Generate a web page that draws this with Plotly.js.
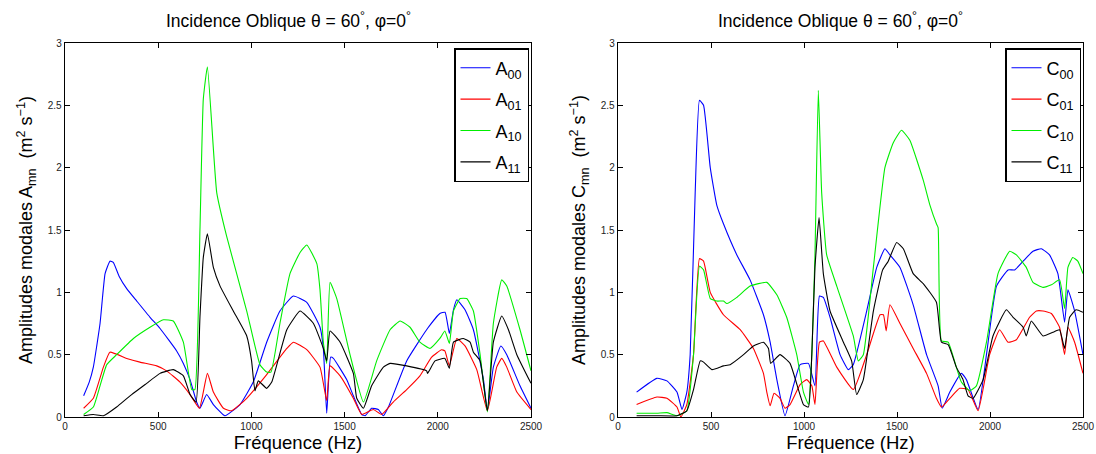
<!DOCTYPE html>
<html>
<head>
<meta charset="utf-8">
<script src="https://cdn.plot.ly/plotly-3.0.1.min.js"></script>
<style>html,body{margin:0;padding:0;background:#fff}#chart{width:1096px;height:454px}</style>
</head>
<body>
<div id="chart"></div>
<script>
// ---- Left panel: A_mn ----
const a00x = [100,130,152,188,215,241,259,290,331,385,456,510,599,635,671,706,724,760,796,858,939,1010,1082,1153,1225,1297,1368,1386,1404,1425,1440,1511,1547,1592,1610,1645,1681,1708,1735,1833,1940,2011,2039,2062,2084,2102,2146,2191,2245,2266,2298,2338,2370,2441,2500];
const a00y = [0.17,0.28,0.4,0.75,1.15,1.25,1.24,1.13,1.03,0.93,0.8,0.71,0.53,0.43,0.3,0.12,0.07,0.18,0.1,0.01,0.1,0.28,0.6,0.85,0.97,0.92,0.72,0.55,0.03,0.48,0.47,0.3,0.17,0.02,0.01,0.07,0.06,0.01,0.08,0.45,0.7,0.83,0.84,0.67,0.86,0.94,0.86,0.7,0.3,0.05,0.4,0.57,0.5,0.25,0.07];

const a01x = [100,152,206,241,331,402,492,545,617,671,721,764,796,850,894,975,1082,1190,1225,1297,1368,1404,1422,1476,1547,1592,1654,1699,1761,1833,1904,1967,2020,2038,2062,2102,2146,2209,2266,2316,2343,2370,2424,2500];
const a01y = [0.07,0.15,0.4,0.52,0.47,0.44,0.41,0.37,0.28,0.18,0.07,0.35,0.2,0.07,0.05,0.15,0.34,0.55,0.6,0.54,0.4,0.13,0.41,0.33,0.15,0.02,0.06,0.02,0.12,0.22,0.33,0.48,0.54,0.53,0.41,0.63,0.57,0.38,0.05,0.4,0.47,0.4,0.2,0.06];

const a10x = [100,152,188,224,277,367,456,528,581,635,680,697,724,742,764,814,867,975,1046,1082,1105,1153,1207,1261,1297,1351,1368,1386,1404,1422,1458,1529,1601,1672,1744,1798,1851,1904,1958,2011,2038,2062,2084,2120,2155,2191,2227,2266,2298,2343,2370,2441,2500];
const a10y = [0.02,0.08,0.25,0.42,0.5,0.63,0.72,0.78,0.77,0.6,0.22,0.22,1.5,2.55,2.81,1.8,1.45,0.85,0.42,0.36,0.36,0.75,1.15,1.32,1.38,1.23,1.02,0.6,0.43,1.08,0.95,0.5,0.12,0.45,0.7,0.77,0.72,0.6,0.55,0.63,0.69,0.59,0.85,0.95,0.95,0.85,0.5,0.04,0.75,1.1,1.05,0.7,0.37];

const a11x = [100,152,206,277,349,438,510,581,635,671,703,724,742,764,796,832,903,975,1001,1019,1037,1082,1109,1190,1261,1333,1386,1404,1422,1476,1547,1565,1601,1645,1708,1744,1833,1940,1945,1985,2038,2062,2084,2137,2173,2191,2227,2266,2298,2343,2379,2424,2500];
const a11y = [0.01,0.02,0.01,0.08,0.17,0.27,0.35,0.38,0.33,0.18,0.12,0.8,1.28,1.47,1.2,1.05,0.85,0.65,0.45,0.21,0.29,0.23,0.28,0.7,0.85,0.75,0.55,0.45,0.69,0.6,0.35,0.15,0.07,0.25,0.4,0.43,0.41,0.37,0.35,0.45,0.47,0.39,0.6,0.63,0.6,0.52,0.45,0.05,0.6,0.81,0.7,0.5,0.27];

// ---- Right panel: C_mn ----
const c00x = [100,209,263,317,344,370,388,415,438,460,496,531,567,639,710,782,818,854,898,943,979,1024,1059,1083,1104,1140,1194,1238,1265,1337,1391,1435,1462,1516,1587,1659,1721,1743,1784,1846,1873,1936,1981,2035,2097,2133,2178,2231,2276,2320,2365,2401,2419,2455,2500];
const c00y = [0.2,0.31,0.29,0.2,0.06,0.2,0.5,1.8,2.54,2.5,2.0,1.7,1.55,1.3,1.1,0.82,0.6,0.3,0.01,0.25,0.42,0.43,0.25,0.97,0.96,0.8,0.5,0.38,0.42,0.85,1.2,1.35,1.3,1.2,0.9,0.5,0.25,0.07,0.2,0.35,0.3,0.06,0.5,1.05,1.18,1.18,1.25,1.33,1.35,1.3,1.15,0.76,1.02,0.85,0.5];

const c01x = [100,209,263,317,338,370,406,438,460,496,567,657,728,782,800,818,839,871,898,925,979,1015,1042,1059,1083,1104,1176,1265,1337,1409,1427,1442,1462,1516,1587,1659,1712,1739,1784,1837,1882,1936,1998,2052,2097,2142,2213,2249,2285,2330,2374,2401,2419,2455,2500];
const c01y = [0.1,0.16,0.15,0.08,0.0,0.1,0.5,1.27,1.25,1.0,0.82,0.7,0.55,0.35,0.2,0.09,0.19,0.15,0.07,0.1,0.26,0.3,0.25,0.1,0.6,0.61,0.4,0.22,0.5,0.82,0.82,0.69,0.9,0.75,0.55,0.35,0.15,0.08,0.15,0.23,0.22,0.05,0.5,0.7,0.6,0.62,0.8,0.85,0.85,0.83,0.72,0.5,0.72,0.6,0.35];

const c10x = [100,209,263,317,370,406,438,460,496,531,567,585,639,710,800,854,907,961,997,1024,1042,1059,1077,1095,1122,1176,1265,1292,1319,1373,1435,1480,1524,1569,1641,1677,1712,1721,1739,1775,1819,1846,1891,1927,1981,2043,2106,2142,2195,2231,2285,2330,2374,2401,2419,2445,2472,2500];
const c10y = [0.03,0.03,0.035,0.01,0.05,0.5,1.21,1.18,0.95,0.93,0.93,0.91,0.96,1.05,1.08,0.98,0.8,0.5,0.2,0.1,0.5,1.3,2.62,1.8,1.3,1.05,0.65,0.45,0.5,1.2,2.0,2.2,2.3,2.22,1.9,1.7,1.55,1.52,0.61,0.6,0.4,0.28,0.21,0.25,0.6,1.15,1.33,1.3,1.2,1.08,1.04,1.06,1.1,0.87,1.2,1.28,1.25,1.15];

const c11x = [100,209,317,370,406,442,460,505,567,603,675,728,782,809,821,871,925,997,1024,1042,1059,1081,1104,1140,1212,1256,1283,1319,1373,1423,1453,1498,1534,1587,1641,1712,1739,1775,1819,1855,1882,1909,1963,2016,2088,2124,2178,2195,2222,2285,2338,2374,2401,2428,2463,2500];
const c11y = [0.01,0.01,0.01,0.05,0.22,0.45,0.44,0.38,0.41,0.42,0.5,0.57,0.6,0.55,0.43,0.5,0.43,0.1,0.08,0.5,1.2,1.6,1.15,0.85,0.6,0.45,0.18,0.3,0.85,1.18,1.25,1.4,1.35,1.15,1.07,0.92,0.6,0.58,0.4,0.3,0.17,0.15,0.3,0.65,0.86,0.8,0.72,0.65,0.77,0.65,0.68,0.7,0.55,0.8,0.86,0.84];

const legA = ['A<sub>00</sub>','A<sub>01</sub>','A<sub>10</sub>','A<sub>11</sub>'];
const legC = ['C<sub>00</sub>','C<sub>01</sub>','C<sub>10</sub>','C<sub>11</sub>'];
const colors = ['#0000ff','#ff0000','#00ee00','#000000'];

const titleText = 'Incidence Oblique \u03b8 = 60<sup>\u00b0</sup>, \u03c6=0<sup>\u00b0</sup>';
const xTitle = 'Fr\u00e9quence (Hz)';
const yTitleA = 'Amplitudes modales A<sub>mn</sub>  (m<sup>2</sup> s<sup>\u22121</sup>)';
const yTitleC = 'Amplitudes modales C<sub>mn</sub>  (m<sup>2</sup> s<sup>\u22121</sup>)';

const FONT = 'Liberation Sans, Arial, Helvetica, sans-serif';

const left = [[a00x,a00y],[a01x,a01y],[a10x,a10y],[a11x,a11y]];
const right = [[c00x,c00y],[c01x,c01y],[c10x,c10y],[c11x,c11y]];

const traces = [];
left.forEach((d,i)=>traces.push({x:d[0],y:d[1],type:'scatter',mode:'lines',name:legA[i],
  line:{color:colors[i],width:1.1,shape:'spline',smoothing:0.4},xaxis:'x',yaxis:'y',legend:'legend',legendgroup:'a'+i}));
right.forEach((d,i)=>traces.push({x:d[0],y:d[1],type:'scatter',mode:'lines',name:legC[i],
  line:{color:colors[i],width:1.1,shape:'spline',smoothing:0.4},xaxis:'x2',yaxis:'y2',legend:'legend2',legendgroup:'c'+i}));

const yTop = 1-43/454, yBot = 1-417/454;
function xax(dom){return {domain:dom,range:[0,2500],tickvals:[0,500,1000,1500,2000,2500],
  ticks:'inside',ticklen:5,tickcolor:'#000',mirror:'ticks',showline:true,linecolor:'#000',linewidth:1.3,
  showgrid:false,zeroline:false,tickfont:{family:FONT,size:10,color:'#222'},
  title:{text:xTitle,font:{family:FONT,size:18.5,color:'#000'},standoff:1}};}
function yax(anchor,title){return {domain:[yBot,yTop],range:[0,3],tickvals:[0,0.5,1,1.5,2,2.5,3],
  ticktext:['0','0.5','1','1.5','2','2.5','3'],anchor:anchor,
  ticks:'inside',ticklen:5,tickcolor:'#000',mirror:'ticks',showline:true,linecolor:'#000',linewidth:1.3,
  showgrid:false,zeroline:false,tickfont:{family:FONT,size:10,color:'#222'},
  title:{text:title,font:{family:FONT,size:18,color:'#000'},standoff:10}};}

const legStyle = (xpos)=>({x:xpos,y:1-48/454,xanchor:'left',yanchor:'top',bgcolor:'#fff',
  bordercolor:'#000',borderwidth:1.5,font:{family:FONT,size:18,color:'#000'},tracegroupgap:5,itemwidth:30});

const layout = {
  width:1096,height:454,paper_bgcolor:'#fff',plot_bgcolor:'#fff',
  margin:{l:0,r:0,t:0,b:0},showlegend:true,
  xaxis:Object.assign(xax([65/1096,531/1096]),{anchor:'y'}),
  yaxis:yax('x',yTitleA),
  xaxis2:Object.assign(xax([618/1096,1083/1096]),{anchor:'y2'}),
  yaxis2:yax('x2',yTitleC),
  legend:legStyle(454/1096),
  legend2:legStyle(1005/1096),
  annotations:[
    {text:titleText,xref:'paper',yref:'paper',x:288/1096,y:1-20/454,xanchor:'center',yanchor:'middle',showarrow:false,font:{family:FONT,size:17.5,color:'#000'}},
    {text:titleText,xref:'paper',yref:'paper',x:840/1096,y:1-20/454,xanchor:'center',yanchor:'middle',showarrow:false,font:{family:FONT,size:17.5,color:'#000'}}
  ]
};
Plotly.newPlot('chart',traces,layout,{staticPlot:true,displayModeBar:false});
</script>
</body>
</html>
